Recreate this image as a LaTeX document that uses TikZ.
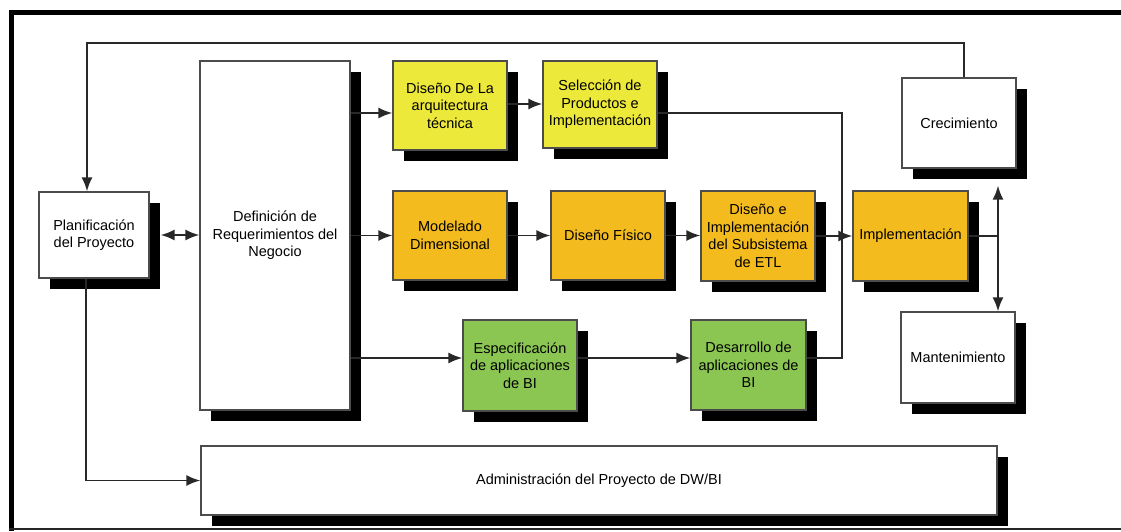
\documentclass[tikz,border=0pt]{standalone}
\usepackage{fontspec}
\setmainfont{Liberation Sans}
\usetikzlibrary{shadows,arrows.meta}
\definecolor{cyel}{RGB}{237,233,58}
\definecolor{cora}{RGB}{244,187,30}
\definecolor{cgrn}{RGB}{139,198,83}
\definecolor{cline}{RGB}{40,40,40}
\begin{document}
\begin{tikzpicture}[x=1pt,y=-1pt,
  box/.style={draw=black!70, line width=1.3pt, align=center, inner sep=2pt,
    font=\fontsize{14.5}{17.5}\selectfont,
    drop shadow={shadow xshift=11pt, shadow yshift=-11pt, fill=black, opacity=1}},
  conn/.style={draw=cline, line width=1.8pt},
  tip/.style={conn, -{Latex[length=14pt,width=11pt]}},
  dtip/.style={conn, {Latex[length=14pt,width=11pt]}-{Latex[length=14pt,width=11pt]}}]
\useasboundingbox (0,0) rectangle (1121,532);
% outer frame
\draw[line width=5pt, black] (1130,13) -| (11,531);
\draw[line width=2pt, black!85] (9,529) -- (1130,529);

% nodes
\node[box, fill=white, minimum width=110pt, minimum height=86pt] (plan) at (94,235) {Planificación\\del Proyecto};
\node[box, fill=white, minimum width=150pt, minimum height=349pt] (defn) at (275,235.5) {Definición de\\Requerimientos del\\Negocio};
\node[box, fill=cyel, minimum width=114pt, minimum height=89pt] (arq) at (450,105.5) {Diseño De La\\arquitectura\\técnica};
\node[box, fill=cyel, minimum width=114pt, minimum height=87pt] (sel) at (600,104.5) {Selección de\\Productos e\\Implementación};
\node[box, fill=cora, minimum width=114pt, minimum height=89pt] (mod) at (450,235.5) {Modelado\\Dimensional};
\node[box, fill=cora, minimum width=114pt, minimum height=89pt] (fis) at (608,235.5) {Diseño Físico};
\node[box, fill=cora, minimum width=114pt, minimum height=90pt] (etl) at (758,236) {Diseño e\\Implementación\\del Subsistema\\de ETL};
\node[box, fill=cora, minimum width=115pt, minimum height=90pt] (impl) at (910.5,236) {Implementación};
\node[box, fill=white, minimum width=114pt, minimum height=90pt] (crec) at (959,123) {Crecimiento};
\node[box, fill=white, minimum width=114pt, minimum height=91pt] (mant) at (958,357.5) {Mantenimiento};
\node[box, fill=cgrn, minimum width=114pt, minimum height=91pt] (esp) at (520,365.5) {Especificación\\de aplicaciones\\de BI};
\node[box, fill=cgrn, minimum width=115pt, minimum height=90pt] (des) at (748.5,365) {Desarrollo de\\aplicaciones de\\BI};
\node[box, fill=white, minimum width=796pt, minimum height=69pt] (adm) at (599,480.5) {Administración del Proyecto de DW/BI};

% helper coordinates
\coordinate (top) at (500,43);
\coordinate (j) at (998,236);
\coordinate (vx) at (842,113);

% connectors
\draw[dtip] ([xshift=11pt]plan.east) -- (defn.west |- plan.east);
\draw[tip] (defn.east |- 0,113) -- (arq.west |- 0,113);
\draw[tip] (arq.east |- 0,104) -- (sel.west |- 0,104);
\draw[tip] (defn.east |- mod.west) -- (mod.west);
\draw[tip] (mod.east) -- (fis.west);
\draw[tip] (fis.east) -- (etl.west |- fis.east);
\draw[tip] (etl.east) -- (impl.west);
\draw[tip] (defn.east |- 0,358) -- (esp.west |- 0,358);
\draw[tip] (esp.east |- 0,358) -- (des.west |- 0,358);
\draw[conn] (sel.east |- vx) -- (vx) -- (vx |- 0,358) -- (des.east |- 0,358);
\draw[conn] (impl.east) -- (j);
\draw[tip] (j) -- ([yshift=-17pt]crec.south -| j);
\draw[tip] (j) -- (mant.north -| j);
\draw[tip] ([xshift=5pt]crec.north) |- (top) -| ([xshift=-7pt]plan.north);
\draw[tip] ([xshift=-8pt]plan.south) |- (adm.west);
\end{tikzpicture}
\end{document}
